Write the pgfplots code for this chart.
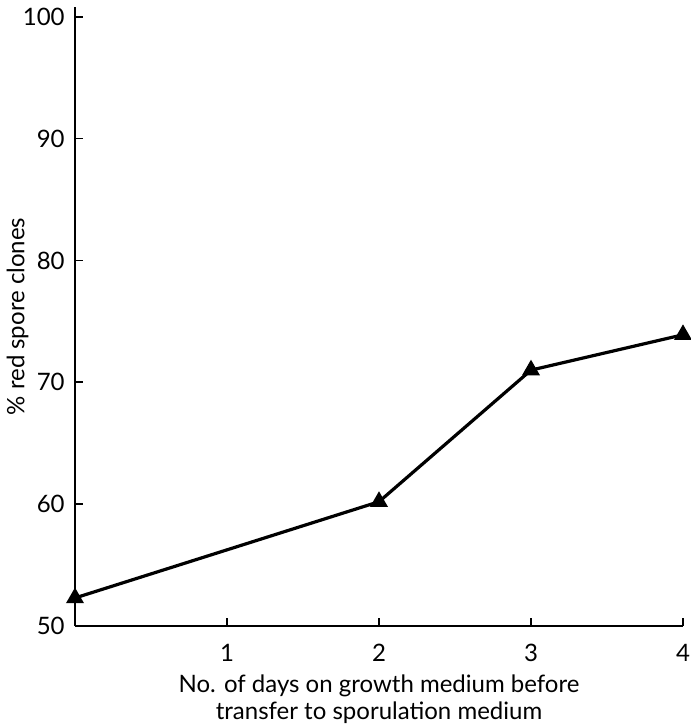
\documentclass[border=0pt]{standalone}
\usepackage{pgfplots}
\pgfplotsset{compat=1.18}
\usepackage{fontspec}
\setmainfont{Lato}
\begin{document}
\fontsize{12}{14}\selectfont
\begin{tikzpicture}
\begin{axis}[
  name=ax,
  scale only axis,
  width=304pt, height=309.5pt,
  xmin=0, xmax=4, ymin=50, ymax=100.8,
  axis x line*=bottom, axis y line*=left,
  axis line style={line width=1pt, -},
  xtick={1,2,3,4}, ytick={50,60,70,80,90,100},
  tick align=inside,
  major tick length=4pt,
  tick style={black, line width=0.8pt},
  /pgf/number format/assume math mode=true,
  ticklabel style={font=\fontsize{12}{14}\selectfont},
  xticklabel style={yshift=-5pt},
  yticklabel style={xshift=-1pt},
  xlabel={No. of days on growth medium before\\transfer to sporulation medium},
  xlabel style={align=center, font=\fontsize{12}{13.5}\selectfont, yshift=2pt},
  ylabel={\% red spore clones},
  ylabel style={font=\fontsize{12}{14}\selectfont, yshift=-11pt},
  clip=false,
]
\addplot[black, line width=1.6pt, mark=triangle*, mark size=3.6pt, mark options={solid}]
coordinates {(0,52.3) (2,60.2) (3,71.0) (4,73.9)};
\end{axis}
\pgfresetboundingbox
\path ([shift={(-37.5pt,-49pt)}]ax.south west) rectangle ([shift={(4pt,3.5pt)}]ax.north east);
\end{tikzpicture}
\end{document}
